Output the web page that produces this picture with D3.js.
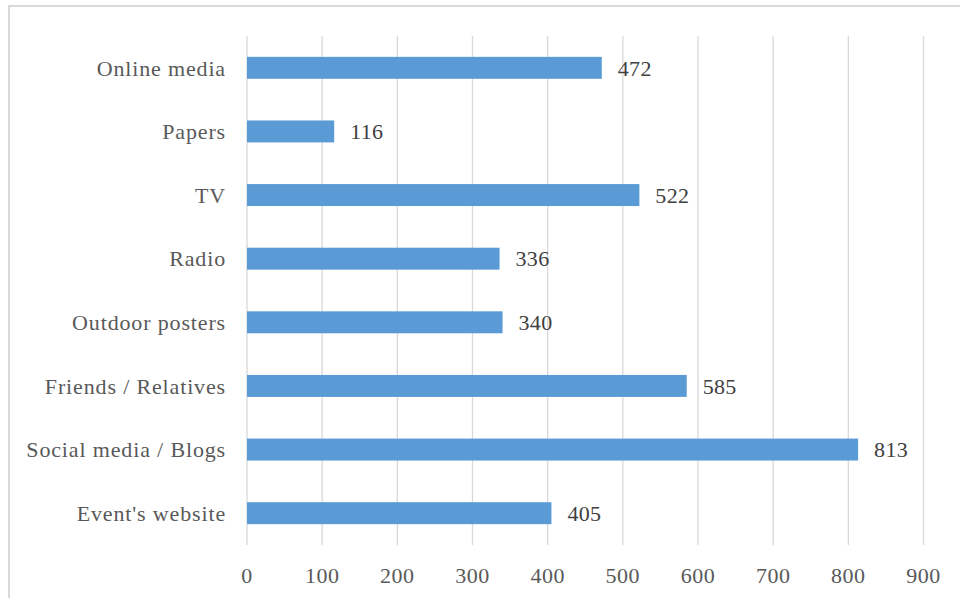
<!DOCTYPE html>
<html><head><meta charset="utf-8">
<script src="https://cdn.jsdelivr.net/npm/d3@7"></script>
<style>body{margin:0;background:#fff}svg{display:block}</style>
</head><body>
<svg id="c" width="960" height="598"></svg>
<script>
const categories = ["Online media","Papers","TV","Radio","Outdoor posters","Friends / Relatives","Social media / Blogs","Event's website"];
const values = [472,116,522,336,340,585,813,405];
const tickValues = [0,100,200,300,400,500,600,700,800,900];

const svg = d3.select("#c");
const font = "'Liberation Serif','Times New Roman',serif";
svg.append("rect").attr("x",9).attr("y",6).attr("width",960).attr("height",600)
  .attr("fill","#fff").attr("stroke","#D9D9D9").attr("stroke-width",2);

const x = d3.scaleLinear().domain([0,900]).range([247,923.5]);
const y = d3.scaleBand().domain(categories).range([36,545]).paddingInner(0.655).paddingOuter(0.3275);

svg.append("g").selectAll("line").data(tickValues).join("line")
  .attr("x1",d=>x(d)).attr("x2",d=>x(d)).attr("y1",36).attr("y2",545)
  .attr("stroke","#D9D9D9").attr("stroke-width",1.3);

svg.append("g").selectAll("rect").data(values).join("rect")
  .attr("x",x(0)).attr("y",(d,i)=>y(categories[i]))
  .attr("width",d=>x(d)-x(0)).attr("height",y.bandwidth())
  .attr("fill","#5B9BD5");

svg.append("g").selectAll("text").data(values).join("text")
  .attr("x",d=>x(d)+16).attr("y",(d,i)=>y(categories[i])+y.bandwidth()/2)
  .attr("dy","0.35em").attr("font-family",font).attr("font-size",22)
  .attr("letter-spacing","0.3px").attr("fill","#404040").text(d=>d);

svg.append("g").selectAll("text").data(categories).join("text")
  .attr("x",226).attr("y",d=>y(d)+y.bandwidth()/2).attr("dy","0.35em")
  .attr("text-anchor","end").attr("font-family",font).attr("font-size",22)
  .attr("letter-spacing","0.85px").attr("fill","#595959").text(d=>d);

svg.append("g").selectAll("text").data(tickValues).join("text")
  .attr("x",d=>x(d)).attr("y",575).attr("dy","0.35em")
  .attr("text-anchor","middle").attr("font-family",font).attr("font-size",22)
  .attr("letter-spacing","0.5px").attr("fill","#595959").text(d=>d);
</script>
</body></html>
